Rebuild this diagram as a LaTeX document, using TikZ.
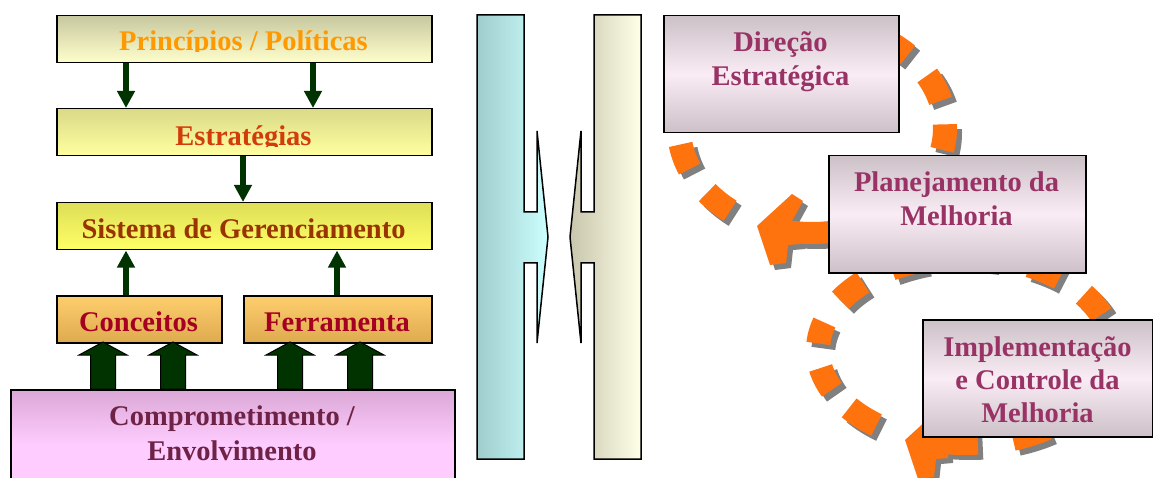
\documentclass[tikz,border=0pt]{standalone}
\usepackage{fontspec}
\setmainfont{Liberation Serif}
\usetikzlibrary{arrows.meta}
\definecolor{dkgreen}{RGB}{0,51,0}
\definecolor{orng}{RGB}{255,115,15}
\definecolor{shd}{RGB}{128,128,128}
\definecolor{ppTop}{RGB}{200,200,160}
\definecolor{ppBot}{RGB}{255,255,204}
\definecolor{esTop}{RGB}{218,218,136}
\definecolor{esBot}{RGB}{255,255,160}
\definecolor{sgTop}{RGB}{222,222,88}
\definecolor{sgBot}{RGB}{255,255,102}
\definecolor{ccTop}{RGB}{253,206,110}
\definecolor{ccBot}{RGB}{222,170,78}
\definecolor{cmTop}{RGB}{218,168,214}
\definecolor{cmBot}{RGB}{255,204,255}
\definecolor{rtEdge}{RGB}{205,193,200}
\definecolor{rtMid}{RGB}{249,236,244}
\definecolor{cyL}{RGB}{160,204,204}
\definecolor{cyR}{RGB}{204,255,255}
\definecolor{crL}{RGB}{200,198,172}
\definecolor{crR}{RGB}{255,255,232}
\definecolor{ppText}{RGB}{255,153,0}
\definecolor{esText}{RGB}{210,60,10}
\definecolor{sgText}{RGB}{153,51,0}
\definecolor{ccText}{RGB}{165,0,33}
\definecolor{cmText}{RGB}{110,35,70}
\definecolor{rtText}{RGB}{153,51,102}
\begin{document}
\begin{tikzpicture}[x=1pt,y=-1pt,
  box/.style={draw=black, line width=1.5pt, inner sep=0pt, anchor=north west},
  rtbox/.style={box, minimum height=117pt, top color=rtEdge, bottom color=rtEdge, middle color=rtMid},
  lbl/.style={font=\bfseries\fontsize{28.5}{33}\selectfont, inner sep=0pt, anchor=base},
  thinarr/.style={draw=dkgreen, line width=6pt, -{Triangle[length=17pt,width=17pt]}},
  blockarr/.style={draw=black, line width=1pt, fill=dkgreen, line join=miter},
  bar/.style={draw=black, line width=1.5pt, line join=miter},
  dashS/.style={draw=shd, line width=24pt, line cap=butt},
  dashO/.style={draw=orng, line width=24pt, line cap=butt},
  shaftS/.style={draw=shd, line width=22pt, line cap=butt},
  shaftO/.style={draw=orng, line width=22pt, line cap=butt}]
\useasboundingbox (0,0) rectangle (1153,478);

% ---------- dashed cycle arrows (behind the boxes) ----------
\foreach \a/\b in {128/142,157/171,-58/-44,-30/-15,-2/12,26/40,54/68}
  \draw[dashS, shift={(5,5)}] plot[domain=\a:\b,samples=9] ({812+133*cos(\x)},{128+105*sin(\x)});
\foreach \a/\b in {127/142,155/169,184/197,212/226,240/254,268/282,296/310,324/338,352/366,20/34,56/71}
  \draw[dashS, shift={(5,5)}] plot[domain=\a:\b,samples=9] ({965+147*cos(\x)},{350+94*sin(\x)});
\draw[shaftS, shift={(5,5)}] plot[domain=78:99,samples=9] ({812+133*cos(\x)},{128+105*sin(\x)});
\draw[shaftS, shift={(5,5)}] plot[domain=85:99,samples=9] ({965+147*cos(\x)},{350+94*sin(\x)});
\fill[shd, shift={(5,5)}] (757,226) -- (792,194) -- (803,201) -- (792,221) -- (800,222) -- (800,244) -- (788,245) -- (786,263) -- (770,265) -- cycle;
\fill[shd, shift={(153,219)}] (757,226) -- (792,194) -- (803,201) -- (792,221) -- (800,222) -- (800,244) -- (788,245) -- (786,263) -- (770,265) -- cycle;

\foreach \a/\b in {128/142,157/171,-58/-44,-30/-15,-2/12,26/40,54/68}
  \draw[dashO] plot[domain=\a:\b,samples=9] ({812+133*cos(\x)},{128+105*sin(\x)});
\foreach \a/\b in {127/142,155/169,184/197,212/226,240/254,268/282,296/310,324/338,352/366,20/34,56/71}
  \draw[dashO] plot[domain=\a:\b,samples=9] ({965+147*cos(\x)},{350+94*sin(\x)});
\draw[shaftO] plot[domain=78:99,samples=9] ({812+133*cos(\x)},{128+105*sin(\x)});
\draw[shaftO] plot[domain=85:99,samples=9] ({965+147*cos(\x)},{350+94*sin(\x)});
\fill[orng] (757,226) -- (792,194) -- (803,201) -- (792,221) -- (800,222) -- (800,244) -- (788,245) -- (786,263) -- (770,265) -- cycle;
\fill[orng, shift={(148,214)}] (757,226) -- (792,194) -- (803,201) -- (792,221) -- (800,222) -- (800,244) -- (788,245) -- (786,263) -- (770,265) -- cycle;

% ---------- left column boxes ----------
\node[box, minimum width=375pt, minimum height=47pt, top color=ppTop, bottom color=ppBot] (pp) at (56,15) {};
\node[box, minimum width=375pt, minimum height=47pt, top color=esTop, bottom color=esBot] (es) at (56,108) {};
\node[box, minimum width=375pt, minimum height=47pt, top color=sgTop, bottom color=sgBot] (sg) at (56,202) {};
\node[box, minimum width=165pt, minimum height=47pt, top color=ccTop, bottom color=ccBot] (cc) at (56,295) {};
\node[box, minimum width=188pt, minimum height=47pt, top color=ccTop, bottom color=ccBot] (fe) at (243,295) {};
\node[box, minimum width=444pt, minimum height=110pt, top color=cmTop, bottom color=cmBot, middle color=cmBot] (cm) at (10,389) {};

\begin{scope}
  \clip (56,15) rectangle (431,52);
  \node[lbl, text=ppText] (ppt) at (243.5,51) {Princípios / Políticas};
\end{scope}
\begin{scope}
  \clip (56,108) rectangle (431,147);
  \node[lbl, text=esText] (est) at (243.5,146) {Estratégias};
\end{scope}
\node[lbl, text=sgText] (sgt) at (243.5,238.5) {Sistema de Gerenciamento};
\begin{scope}
  \clip (56,295) rectangle (431,332);
  \node[lbl, text=ccText] (cct) at (138.5,331) {Conceitos};
  \node[lbl, text=ccText] (fet) at (337,331) {Ferramenta};
\end{scope}
\node[lbl, text=cmText] (cmt1) at (232,425) {Comprometimento /};
\node[lbl, text=cmText] (cmt2) at (232,460) {Envolvimento};

% thin arrows
\coordinate (xa) at (126,0);
\coordinate (xb) at (313,0);
\coordinate (xc) at (243,0);
\coordinate (xd) at (337,0);
\draw[thinarr] (xa |- pp.south) -- (xa |- es.north);
\draw[thinarr] (xb |- pp.south) -- (xb |- es.north);
\draw[thinarr] (xc |- es.south) -- (xc |- sg.north);
\draw[thinarr] (xa |- cc.north) -- (xa |- sg.south);
\draw[thinarr] (xd |- fe.north) -- (xd |- sg.south);

% block arrows
\foreach \bx in {103,173,290,360}
  \draw[blockarr] (\bx-12.5,389) -- (\bx-12.5,355) -- (\bx-24,355) -- (\bx,342) -- (\bx+24,355) -- (\bx+12.5,355) -- (\bx+12.5,389) -- cycle;

% ---------- middle bars ----------
\draw[bar, left color=cyL, right color=cyR] (477,15) -- (524,15) -- (524,212) -- (537,212) -- (537,131) -- (548,237) -- (537,343) -- (537,263) -- (524,263) -- (524,459) -- (477,459) -- cycle;
\draw[bar, left color=crL, right color=crR] (594,15) -- (641,15) -- (641,459) -- (594,459) -- (594,263) -- (581,263) -- (581,343) -- (570,237) -- (581,131) -- (581,212) -- (594,212) -- cycle;

% ---------- right boxes ----------
\node[rtbox, minimum width=235pt] (de) at (663,15) {};
\node[rtbox, minimum width=257pt] (pl) at (828,155) {};
\node[rtbox, minimum width=230pt] (im) at (922,319) {};

\node[lbl, text=rtText] (det1) at (780.5,52) {Direção};
\node[lbl, text=rtText] (det2) at (780.5,86) {Estratégica};
\node[lbl, text=rtText] (plt1) at (956.5,192) {Planejamento da};
\node[lbl, text=rtText] (plt2) at (956.5,226) {Melhoria};
\node[lbl, text=rtText] (imt1) at (1037.5,356) {Implementação};
\node[lbl, text=rtText] (imt2) at (1037.5,389) {e Controle da};
\node[lbl, text=rtText] (imt3) at (1037.5,422) {Melhoria};
\end{tikzpicture}
\end{document}
